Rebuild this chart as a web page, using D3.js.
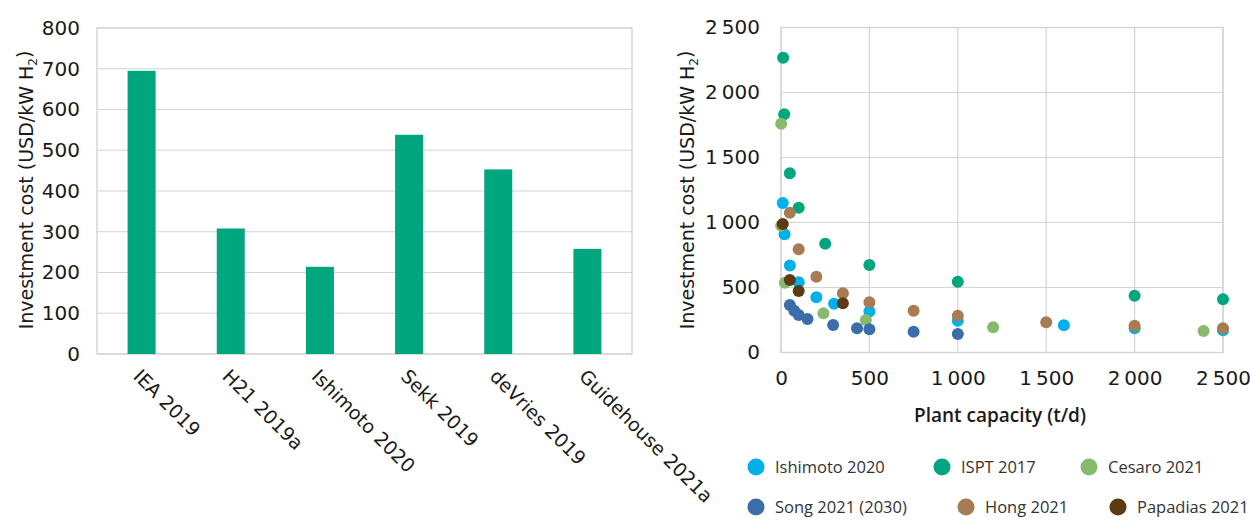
<!DOCTYPE html>
<html>
<head>
<meta charset="utf-8">
<script src="https://cdn.jsdelivr.net/npm/d3@7"></script>
<style>
  html, body { margin: 0; padding: 0; background: #fff; }
  svg { display: block; font-family: "DejaVu Sans", sans-serif; }
</style>
</head>
<body>
<svg id="chart" width="1250" height="520"></svg>
<script>
// Bar chart: investment cost by study
const barCategories = ["IEA 2019", "H21 2019a", "Ishimoto 2020", "Sekk 2019", "deVries 2019", "Guidehouse 2021a"];
const barValues = [695, 308, 214, 538, 453, 258];
const barTicks = [0, 100, 200, 300, 400, 500, 600, 700, 800];

// Scatter: investment cost vs plant capacity, one pair of arrays per study
const ishimotoCap  = [10, 20, 50, 100, 200, 300, 500, 1000, 1600, 2000, 2500];
const ishimotoCost = [1150, 910, 670, 540, 425, 375, 315, 245, 210, 186, 172];
const isptCap  = [12, 18, 50, 100, 250, 500, 1000, 2000, 2500];
const isptCost = [2267, 1832, 1378, 1114, 837, 673, 545, 437, 409];
const cesaroCap  = [1, 1, 22, 240, 480, 1200, 2390];
const cesaroCost = [1760, 975, 537, 301, 250, 194, 165];
const songCap  = [50, 75, 100, 150, 295, 430, 500, 750, 1000];
const songCost = [365, 322, 288, 258, 211, 186, 178, 160, 142];
const hongCap  = [50, 100, 200, 350, 500, 750, 1000, 1500, 2000, 2500];
const hongCost = [1075, 794, 583, 455, 386, 322, 283, 232, 206, 186];
const papadiasCap  = [10, 50, 100, 350];
const papadiasCost = [988, 558, 473, 378];

const seriesNames  = ["Ishimoto 2020", "ISPT 2017", "Cesaro 2021", "Song 2021 (2030)", "Hong 2021", "Papadias 2021"];
const seriesColors = ["#00B0E8", "#00A67E", "#87BA6D", "#3A6DAA", "#A77C52", "#5C3A13"];
const scatterXTicks = [0, 500, 1000, 1500, 2000, 2500];
const scatterYTicks = [0, 500, 1000, 1500, 2000, 2500];

const series = [
  [ishimotoCap, ishimotoCost],
  [isptCap, isptCost],
  [cesaroCap, cesaroCost],
  [songCap, songCost],
  [hongCap, hongCost],
  [papadiasCap, papadiasCost]
].map(([xs, ys], i) => ({
  name: seriesNames[i],
  color: seriesColors[i],
  points: xs.map((x, j) => ({ x, y: ys[j] }))
}));

const svg = d3.select("#chart");
const gridColor = "#d4d4d4";
const textColor = "#1a1a1a";
const fmt = d3.formatLocale({ decimal: ".", thousands: "\u2009", grouping: [3], currency: ["", ""] }).format(",d");

function yTitle(g, x, y) {
  const t = g.append("text")
    .attr("transform", `translate(${x},${y}) rotate(-90)`)
    .attr("text-anchor", "middle")
    .attr("font-size", 19)
    .attr("fill", textColor);
  t.append("tspan").text("Investment cost (USD/kW H");
  t.append("tspan").attr("font-size", 12).attr("dy", "0.35em").text("2");
  t.append("tspan").attr("dy", "-0.35em").text(")");
}

// ---------- Left: bar chart ----------
{
  const L = 97, R = 632, T = 28, B = 354;
  const x = d3.scaleBand().domain(barCategories).range([L, R]).paddingInner(0.686).paddingOuter(0.343);
  const y = d3.scaleLinear().domain([0, 800]).range([B, T]);
  const g = svg.append("g");

  g.append("g").selectAll("line").data(barTicks).join("line")
    .attr("x1", L).attr("x2", R)
    .attr("y1", d => y(d)).attr("y2", d => y(d))
    .attr("stroke", gridColor).attr("stroke-width", 1.2);
  g.append("rect").attr("x", L).attr("y", T).attr("width", R - L).attr("height", B - T)
    .attr("fill", "none").attr("stroke", gridColor).attr("stroke-width", 1.4);

  g.append("g").selectAll("rect").data(barValues).join("rect")
    .attr("x", (d, i) => x(barCategories[i]))
    .attr("width", x.bandwidth())
    .attr("y", d => y(d))
    .attr("height", d => y(0) - y(d))
    .attr("fill", "#00A67E");

  const ya = d3.axisLeft(y).tickValues(barTicks).tickFormat(fmt).tickSize(0).tickPadding(17);
  g.append("g").attr("transform", `translate(${L},0)`).call(ya)
    .call(s => s.select(".domain").remove())
    .selectAll("text").attr("font-size", 20).attr("fill", textColor).attr("font-family", "DejaVu Sans");

  g.append("g").selectAll("text").data(barCategories).join("text")
    .attr("transform", d => `translate(${x(d) + x.bandwidth() / 2},${B + 14}) rotate(45)`)
    .attr("dy", "0.7em")
    .attr("font-size", 19)
    .attr("fill", textColor)
    .text(d => d);

  yTitle(g, 33, 190);
}

// ---------- Right: scatter ----------
{
  const L = 781, R = 1223, T = 27.5, B = 352.5;
  const x = d3.scaleLinear().domain([0, 2500]).range([L, R]);
  const y = d3.scaleLinear().domain([0, 2500]).range([B, T]);
  const g = svg.append("g");

  g.append("g").selectAll("line").data(scatterYTicks).join("line")
    .attr("x1", L).attr("x2", R)
    .attr("y1", d => y(d)).attr("y2", d => y(d))
    .attr("stroke", gridColor).attr("stroke-width", 1.2);
  g.append("g").selectAll("line").data(scatterXTicks).join("line")
    .attr("y1", T).attr("y2", B)
    .attr("x1", d => x(d)).attr("x2", d => x(d))
    .attr("stroke", gridColor).attr("stroke-width", 1.2);
  g.append("rect").attr("x", L).attr("y", T).attr("width", R - L).attr("height", B - T)
    .attr("fill", "none").attr("stroke", gridColor).attr("stroke-width", 1.4);

  series.forEach(s => {
    g.append("g").selectAll("circle").data(s.points).join("circle")
      .attr("cx", d => x(d.x)).attr("cy", d => y(d.y)).attr("r", 6)
      .attr("fill", s.color);
  });

  const ya = d3.axisLeft(y).tickValues(scatterYTicks).tickFormat(fmt).tickSize(0).tickPadding(21);
  g.append("g").attr("transform", `translate(${L},0)`).call(ya)
    .call(s => s.select(".domain").remove())
    .selectAll("text").attr("font-size", 20).attr("fill", textColor).attr("font-family", "DejaVu Sans");

  const xa = d3.axisBottom(x).tickValues(scatterXTicks).tickFormat(fmt).tickSize(0).tickPadding(18);
  g.append("g").attr("transform", `translate(0,${B})`).call(xa)
    .call(s => s.select(".domain").remove())
    .selectAll("text").attr("font-size", 20).attr("fill", textColor).attr("font-family", "DejaVu Sans");

  g.append("text").attr("x", (L + R) / 2 - 2).attr("y", 422)
    .attr("text-anchor", "middle")
    .attr("font-family", "'Open Sans', sans-serif")
    .attr("font-size", 19).attr("font-weight", 600)
    .attr("fill", textColor).text("Plant capacity (t/d)");

  yTitle(g, 694, 190);

  // Legend: two rows of three entries
  const legendX = [[756, 942, 1089], [756, 966, 1118]];
  const legendY = [467, 507];
  series.forEach((s, i) => {
    const row = Math.floor(i / 3), col = i % 3;
    const lg = g.append("g").attr("transform", `translate(${legendX[row][col]},${legendY[row]})`);
    lg.append("circle").attr("r", 8.5).attr("fill", s.color);
    lg.append("text").attr("x", 19).attr("dy", "0.35em")
      .attr("font-family", "'Open Sans', sans-serif")
      .attr("font-size", 16.5).attr("fill", "#333").text(s.name);
  });
}
</script>
</body>
</html>
